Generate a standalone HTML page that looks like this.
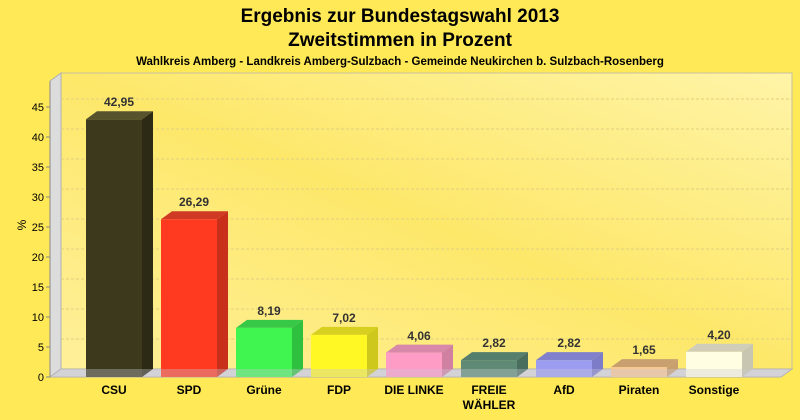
<!DOCTYPE html>
<html><head><meta charset="utf-8"><style>
body{margin:0;background:#ffe957;}
svg{display:block;font-family:"Liberation Sans",sans-serif;}
</style></head><body>
<svg width="800" height="420" viewBox="0 0 800 420" xmlns="http://www.w3.org/2000/svg">
<defs>
<linearGradient id="wall" x1="0" y1="1" x2="1" y2="0">
<stop offset="0" stop-color="#fff09a"/><stop offset="0.5" stop-color="#fde86a"/><stop offset="1" stop-color="#fff4a8"/>
</linearGradient>
</defs>
<rect width="800" height="420" fill="#ffe957"/>
<text x="400" y="22" text-anchor="middle" font-size="19" font-weight="bold">Ergebnis zur Bundestagswahl 2013</text>
<text x="400" y="46" text-anchor="middle" font-size="19" font-weight="bold">Zweitstimmen in Prozent</text>
<text x="400" y="65" text-anchor="middle" font-size="11.5" font-weight="bold">Wahlkreis Amberg - Landkreis Amberg-Sulzbach - Gemeinde Neukirchen b. Sulzbach-Rosenberg</text>
<rect x="61" y="73" width="731" height="296" fill="url(#wall)" stroke="#c8c0a0" stroke-width="1"/>
<polygon points="50,81 61,73 61,369 50,377" fill="#dcdcdc" stroke="#b0b0b0"/>
<polygon points="50,377 61,369 792,369 781,377" fill="#d8d8d8" stroke="#b0b0b0"/>
<g stroke="#e0cf80" stroke-dasharray="3,2" stroke-width="1">
<line x1="61" y1="339" x2="792" y2="339"/><line x1="61" y1="309" x2="792" y2="309"/>
<line x1="61" y1="279" x2="792" y2="279"/><line x1="61" y1="249" x2="792" y2="249"/>
<line x1="61" y1="219" x2="792" y2="219"/><line x1="61" y1="189" x2="792" y2="189"/>
<line x1="61" y1="159" x2="792" y2="159"/><line x1="61" y1="129" x2="792" y2="129"/>
<line x1="61" y1="99" x2="792" y2="99"/>
</g>
<line x1="50" y1="81" x2="50" y2="377" stroke="#888"/>
<g font-size="11" text-anchor="end">
<text x="44" y="381">0</text><text x="44" y="351">5</text><text x="44" y="321">10</text>
<text x="44" y="291">15</text><text x="44" y="261">20</text><text x="44" y="231">25</text>
<text x="44" y="201">30</text><text x="44" y="171">35</text><text x="44" y="141">40</text>
<text x="44" y="111">45</text>
</g>
<g stroke="#888"><line x1="46" y1="377" x2="50" y2="377"/><line x1="46" y1="347" x2="50" y2="347"/><line x1="46" y1="317" x2="50" y2="317"/><line x1="46" y1="287" x2="50" y2="287"/><line x1="46" y1="257" x2="50" y2="257"/><line x1="46" y1="227" x2="50" y2="227"/><line x1="46" y1="197" x2="50" y2="197"/><line x1="46" y1="167" x2="50" y2="167"/><line x1="46" y1="137" x2="50" y2="137"/><line x1="46" y1="107" x2="50" y2="107"/></g>
<text x="22" y="225" font-size="12" text-anchor="middle" transform="rotate(-90 22 225) translate(0 4)">%</text>

<polygon points="142,119.3 153,111.3 153,369 142,377" fill="#2c2a14"/>
<polygon points="86,119.3 97,111.3 153,111.3 142,119.3" fill="#57532c"/>
<rect x="86" y="119.3" width="56" height="257.7" fill="#3d391c"/>
<polygon points="217,219.3 228,211.3 228,369 217,377" fill="#c9301c"/>
<polygon points="161,219.3 172,211.3 228,211.3 217,219.3" fill="#d03a24"/>
<rect x="161" y="219.3" width="56" height="157.7" fill="#ff3a20"/>
<polygon points="292,327.9 303,319.9 303,369 292,377" fill="#30c040"/>
<polygon points="236,327.9 247,319.9 303,319.9 292,327.9" fill="#38c848"/>
<rect x="236" y="327.9" width="56" height="49.1" fill="#40f550"/>
<polygon points="367,334.9 378,326.9 378,369 367,377" fill="#cfc81c"/>
<polygon points="311,334.9 322,326.9 378,326.9 367,334.9" fill="#d8d020"/>
<rect x="311" y="334.9" width="56" height="42.1" fill="#fff824"/>
<polygon points="442,352.6 453,344.6 453,369 442,377" fill="#d080a0"/>
<polygon points="386,352.6 397,344.6 453,344.6 442,352.6" fill="#d888a8"/>
<rect x="386" y="352.6" width="56" height="24.4" fill="#ff9cc6"/>
<polygon points="517,360.1 528,352.1 528,369 517,377" fill="#4a6e5e"/>
<polygon points="461,360.1 472,352.1 528,352.1 517,360.1" fill="#557e6c"/>
<rect x="461" y="360.1" width="56" height="16.9" fill="#5e8a76"/>
<polygon points="592,360.1 603,352.1 603,369 592,377" fill="#7c7cc8"/>
<polygon points="536,360.1 547,352.1 603,352.1 592,360.1" fill="#8080cc"/>
<rect x="536" y="360.1" width="56" height="16.9" fill="#9c9cf0"/>
<polygon points="667,367.1 678,359.1 678,369 667,377" fill="#c8a070"/>
<polygon points="611,367.1 622,359.1 678,359.1 667,367.1" fill="#c8a070"/>
<rect x="611" y="367.1" width="56" height="9.9" fill="#f7c894"/>
<polygon points="742,351.8 753,343.8 753,369 742,377" fill="#c8c6b0"/>
<polygon points="686,351.8 697,343.8 753,343.8 742,351.8" fill="#d0ceb8"/>
<rect x="686" y="351.8" width="56" height="25.2" fill="#fffde2"/>
<polygon points="50,377 61,369 792,369 781,377" fill="#c8c8d8" opacity="0.35"/>

<g font-size="12" font-weight="bold" text-anchor="middle" fill="#333">
<text x="119" y="106">42,95</text><text x="194" y="206">26,29</text><text x="269" y="315">8,19</text>
<text x="344" y="322">7,02</text><text x="419" y="340">4,06</text><text x="494" y="347">2,82</text>
<text x="569" y="347">2,82</text><text x="644" y="354">1,65</text><text x="719" y="339">4,20</text>
</g>
<g font-size="12" font-weight="bold" text-anchor="middle">
<text x="114" y="394">CSU</text><text x="189" y="394">SPD</text><text x="264" y="394">Grüne</text>
<text x="339" y="394">FDP</text><text x="414" y="394">DIE LINKE</text><text x="489" y="394">FREIE</text>
<text x="489" y="409">WÄHLER</text><text x="564" y="394">AfD</text><text x="639" y="394">Piraten</text>
<text x="714" y="394">Sonstige</text>
</g>
</svg>
</body></html>
